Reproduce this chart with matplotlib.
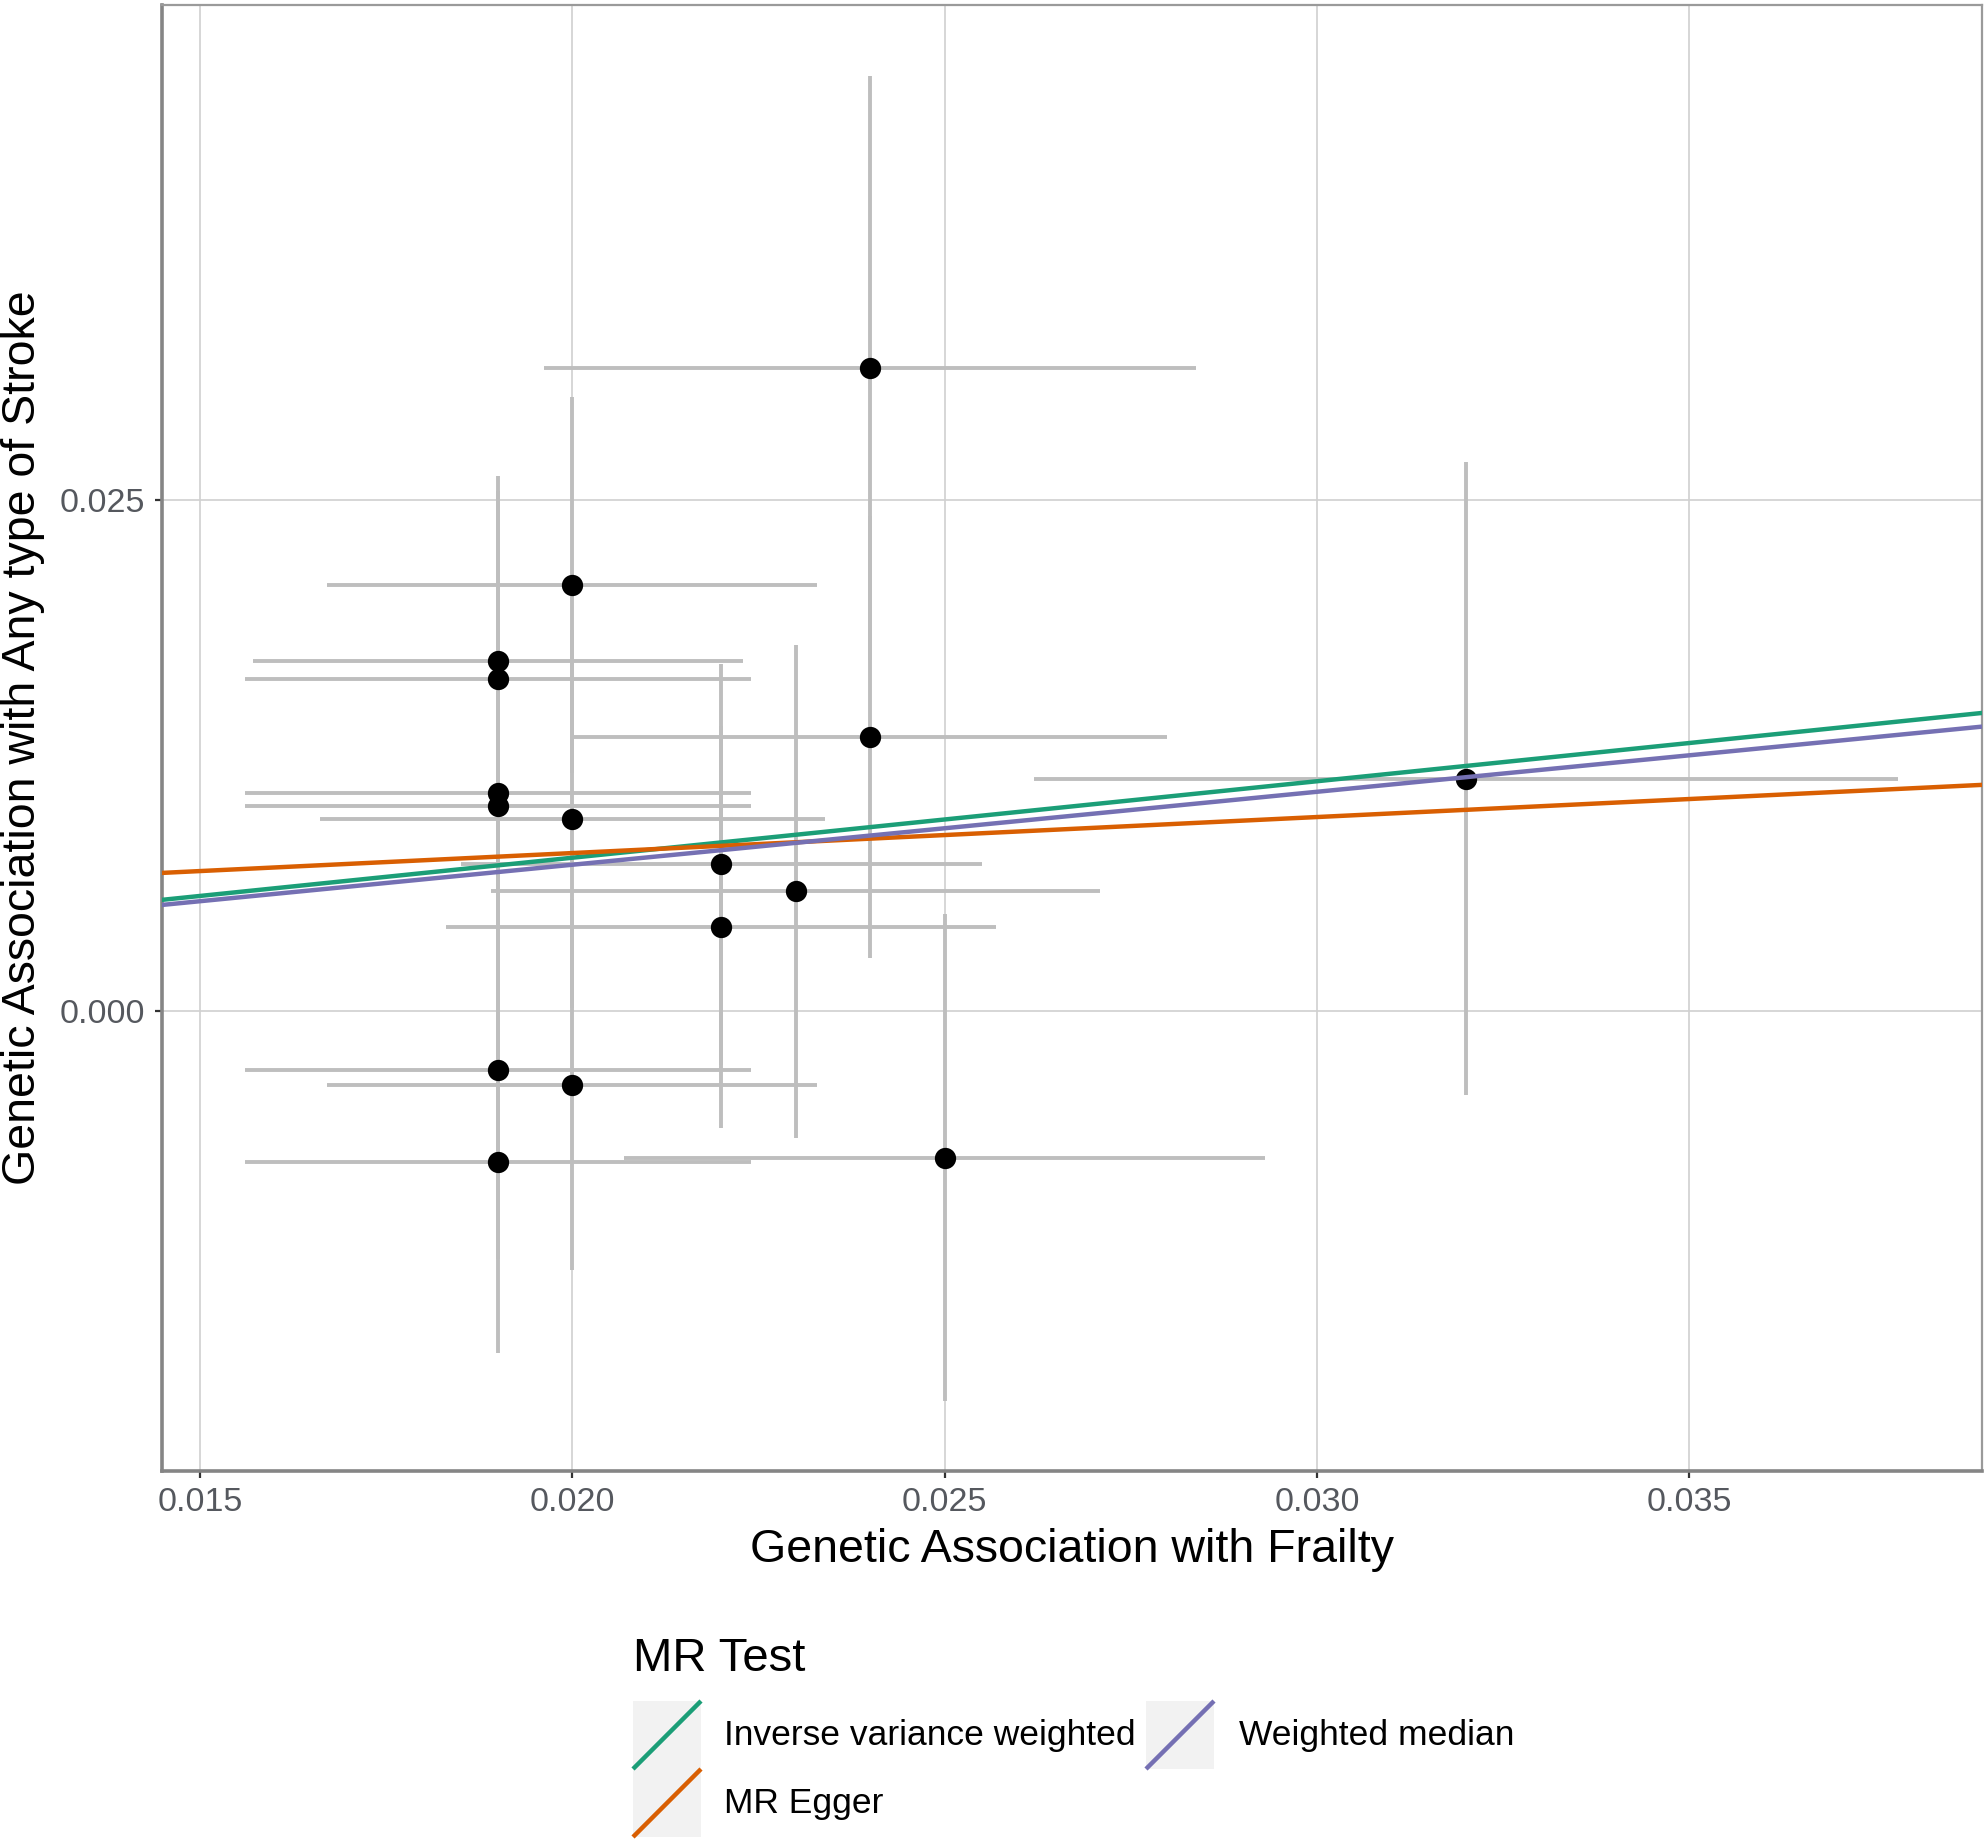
import numpy as np
import matplotlib
matplotlib.use("Agg")
import matplotlib.pyplot as plt
from matplotlib.patches import Rectangle
from matplotlib.ticker import FormatStrFormatter

plt.rcParams['font.family'] = ['Liberation Sans', 'DejaVu Sans']

# SNP effects on exposure (frailty) and outcome (any stroke)
beta_exposure = [0.024, 0.020, 0.019, 0.019, 0.024, 0.032, 0.019, 0.019,
                 0.020, 0.022, 0.023, 0.022, 0.019, 0.020, 0.019, 0.025]
beta_outcome = [0.03145, 0.02086, 0.01710, 0.01623, 0.01339, 0.01135, 0.01065, 0.01004,
                0.00937, 0.00716, 0.00584, 0.00408, -0.00292, -0.00362, -0.00743, -0.00721]
se_exposure = [0.00438, 0.00329, 0.00329, 0.00340, 0.00399, 0.00580, 0.00340, 0.00340,
               0.00339, 0.00350, 0.00409, 0.00369, 0.00340, 0.00329, 0.00340, 0.00430]
se_outcome = [0.01430, 0.00920, 0.00910, 0.00920, 0.01083, 0.01550, 0.00920, 0.00915,
              0.00925, 0.00980, 0.01207, 0.00985, 0.00925, 0.00910, 0.00935, 0.01193]

# MR estimates (intercept, slope)
methods = ["Inverse variance weighted", "MR Egger", "Weighted median"]
intercepts = [0.0, 0.00419, 0.0]
slopes = [0.3745, 0.1764, 0.3573]
colors = ["#1B9E77", "#D95F02", "#7570B3"]

W, H = 1986, 1844
fig = plt.figure(figsize=(W / 100, H / 100), dpi=100)
left, right, top, bottom = 162, 1982, 5, 1470.5
ax = fig.add_axes([left / W, 1 - bottom / H, (right - left) / W, (bottom - top) / H])

ax.errorbar(beta_exposure, beta_outcome, xerr=se_exposure, yerr=se_outcome,
            fmt='none', ecolor='#BEBEBE', elinewidth=2.8, capsize=0, zorder=2)
ax.scatter(beta_exposure, beta_outcome, s=235, color='black', zorder=3, linewidths=0)

for b0, b1, c in zip(intercepts, slopes, colors):
    ax.axline((0, b0), slope=b1, color=c, linewidth=3.2, zorder=4)

ax.set_xlim(0.01449, 0.03893)
ax.set_ylim(-0.02252, 0.04925)
ax.set_xticks([0.015, 0.020, 0.025, 0.030, 0.035])
ax.set_yticks([0.000, 0.025])
ax.xaxis.set_major_formatter(FormatStrFormatter('%.3f'))
ax.yaxis.set_major_formatter(FormatStrFormatter('%.3f'))
ax.grid(True, color='#D0D0D0', linewidth=1.2, zorder=0)
ax.set_axisbelow(True)
ax.tick_params(axis='both', direction='out', length=5, width=1.6, color='#333333',
               labelsize=24.5, labelcolor='#55585E', pad=7)
for side in ['top', 'right']:
    ax.spines[side].set_color('#9A9A9A')
    ax.spines[side].set_linewidth(1.6)
for side in ['left', 'bottom']:
    ax.spines[side].set_color('#858585')
    ax.spines[side].set_linewidth(2.6)

ax.set_xlabel("Genetic Association with Frailty", fontsize=33.5, va='center')
ax.xaxis.set_label_coords(0.5, (bottom - 1550) / (bottom - top))
ax.set_ylabel("Genetic Association with Any type of Stroke", fontsize=33.5, va='center')
ax.yaxis.set_label_coords((23 - left) / (right - left), 0.5)

# legend drawn in figure pixel space
lax = fig.add_axes([0, 0, 1, 1])
lax.set_xlim(0, W)
lax.set_ylim(H, 0)
lax.axis('off')
lax.text(633, 1659, "MR Test", fontsize=34, va='center', ha='left')
key_boxes = [(633, 1701), (633, 1769), (1146, 1701)]
label_x = [724, 724, 1239]
key = 68
for (kx, ky), lx, name, c in zip(key_boxes, label_x, methods, colors):
    lax.add_patch(Rectangle((kx, ky), key, key, facecolor='#F2F2F2', edgecolor='none'))
    lax.plot([kx, kx + key], [ky + key, ky], color=c, linewidth=3.2, solid_capstyle='butt')
    lax.text(lx, ky + key / 2, name, fontsize=25.5, va='center', ha='left')

fig.savefig("out.png", dpi=100)
